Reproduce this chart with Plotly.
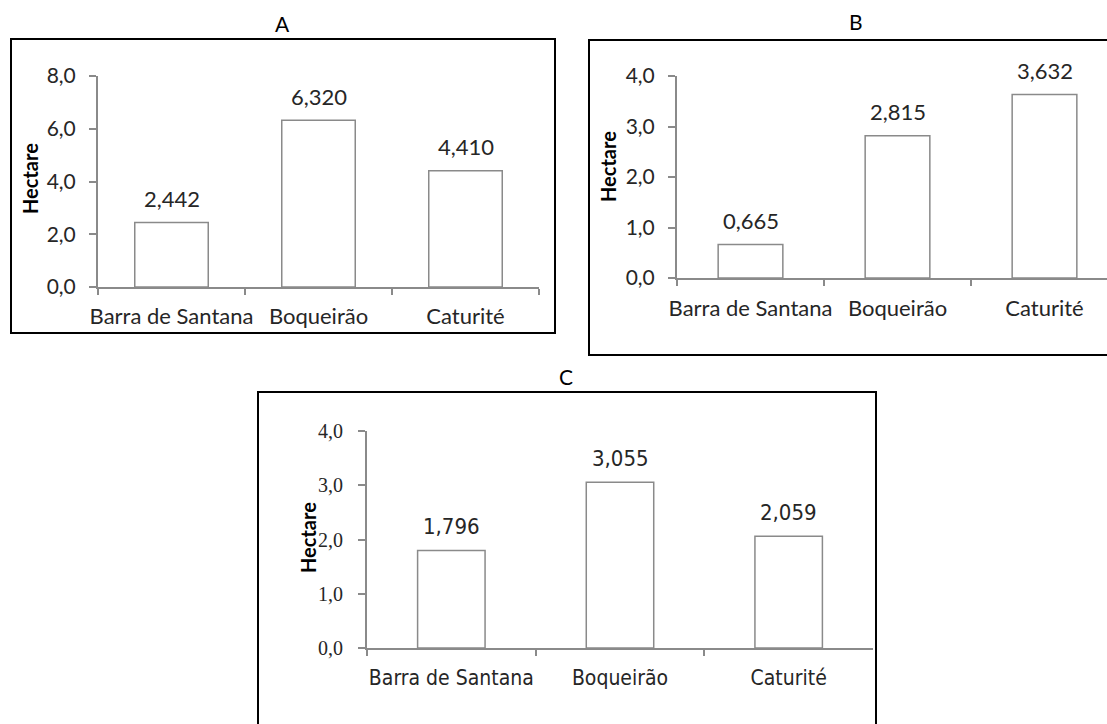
import plotly.graph_objects as go

categories = ["Barra de Santana", "Boqueirão", "Caturité"]
a_values = [2.442, 6.320, 4.410]
b_values = [0.665, 2.815, 3.632]
c_values = [1.796, 3.055, 2.059]
panel_titles = ["A", "B", "C"]
y_title = "Hectare"

W, H = 1107, 724
def px(x):
    return x / W
def py(y):
    return 1 - y / H

AXIS = "#8a8a8a"
TEXT = "#262626"
FONT = "Lato, 'Open Sans', sans-serif"
FONT_C = "'Liberation Sans Narrow', 'DejaVu Sans Condensed', Lato, sans-serif"
SERIF_C = "'Liberation Serif', serif"

fig = go.Figure()

panels = [
    dict(vals=a_values, xa="x", ya="y", width=0.5),
    dict(vals=b_values, xa="x2", ya="y2", width=0.44),
    dict(vals=c_values, xa="x3", ya="y3", width=0.4),
]
for p in panels:
    fig.add_trace(go.Bar(
        x=categories, y=p["vals"], xaxis=p["xa"], yaxis=p["ya"],
        width=p["width"], marker=dict(color="white", line=dict(color=AXIS, width=1.5)),
        showlegend=False, hoverinfo="skip"))

def xaxis(domain, rng, anchor, font, size, standoff):
    return dict(domain=domain, anchor=anchor, type="category", range=rng,
                showline=True, linecolor=AXIS, linewidth=2,
                ticks="outside", tickson="boundaries", ticklen=6, tickwidth=2, tickcolor=AXIS,
                showgrid=False, zeroline=False, tickangle=0, automargin=False,
                tickfont=dict(family=font, size=size, color=TEXT), ticklabelstandoff=standoff)

def yaxis(domain, rng, dtick, anchor, font, size, standoff):
    return dict(domain=domain, anchor=anchor, range=rng, dtick=dtick, tickformat=".1f",
                showline=True, linecolor=AXIS, linewidth=2,
                ticks="outside", ticklen=7, tickwidth=2, tickcolor=AXIS,
                showgrid=False, zeroline=False, automargin=False,
                tickfont=dict(family=font, size=size, color=TEXT), ticklabelstandoff=standoff)

layout = dict(
    width=W, height=H, margin=dict(l=0, r=0, t=0, b=0, autoexpand=False), autosize=False,
    paper_bgcolor="white", plot_bgcolor="rgba(0,0,0,0)", separators=",.",
    bargap=0.5,
    xaxis=xaxis([px(98), px(539)], [-0.5, 2.5], "y", FONT, 22, 9),
    yaxis=yaxis([py(287), py(76)], [0, 8], 2, "x", FONT, 21, 9),
    xaxis2=xaxis([px(677), 1.0], [-0.5, (W - 677) / 147 - 0.5], "y2", FONT, 22, 10),
    yaxis2=yaxis([py(278), py(76)], [0, 4], 1, "x2", FONT, 21, 9),
    xaxis3=xaxis([px(367), px(873)], [-0.5, 2.5], "y3", FONT_C, 21, 10),
    yaxis3=yaxis([py(648), py(431)], [0, 4], 1, "x3", SERIF_C, 20, 11),
)
fig.update_layout(**layout)

# value labels
for p in panels:
    for c, v in zip(categories, p["vals"]):
        fig.add_annotation(x=c, y=v, xref=p["xa"], yref=p["ya"], yshift=24,
                           xanchor="center", yanchor="middle",
                           text=f"{v:.3f}".replace(".", ","), showarrow=False,
                           font=dict(family=FONT_C if p["xa"] == "x3" else FONT, size=22, color=TEXT))

# panel titles
for t, (x, y) in zip(panel_titles, [(282, 23), (856, 22), (566, 376)]):
    fig.add_annotation(x=px(x), y=py(y), xref="paper", yref="paper", text=t, showarrow=False,
                       xanchor="center", yanchor="middle",
                       font=dict(family=FONT, size=21, color="black"))

# y-axis titles
for (x, y) in [(30, 179), (608, 167), (308, 538)]:
    fig.add_annotation(x=px(x), y=py(y), xref="paper", yref="paper", text=f"<b>{y_title}</b>",
                       textangle=-90, showarrow=False, xanchor="center", yanchor="middle",
                       font=dict(family=FONT, size=20, color="black"))

# panel frames
for (x0, y0, x1, y1) in [(11, 39, 555, 333), (589, 40, 1112, 355), (258, 392, 876, 730)]:
    fig.add_shape(type="rect", xref="paper", yref="paper",
                  x0=px(x0), x1=px(x1), y0=py(y1), y1=py(y0),
                  line=dict(color="black", width=2), fillcolor="rgba(0,0,0,0)")

fig.write_html("out.html", config={"displayModeBar": False},
               post_script="document.body.style.margin='0';document.body.style.overflow='hidden';")
